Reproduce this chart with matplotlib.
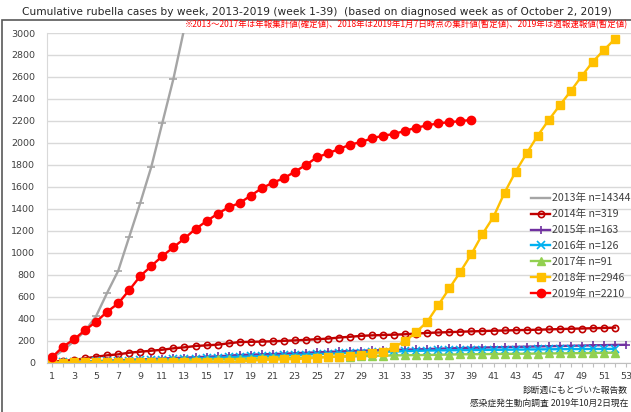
import matplotlib
matplotlib.use("Agg")
import matplotlib.pyplot as plt
from matplotlib.patches import Rectangle

plt.rcParams['font.family'] = ['DejaVu Sans', 'Noto Sans CJK JP']

# cumulative cases by week
y2013 = [40, 115, 195, 290, 425, 637, 837, 1147, 1456, 1784, 2184, 2584, 3050, 3500]
y2014 = [8, 18, 25, 40, 55, 67, 76, 91, 100, 109, 118, 131, 140, 152, 158, 164, 176, 188,
         190, 192, 195, 199, 203, 208, 214, 219, 229, 236, 244, 249, 252, 255, 259, 265,
         271, 275, 278, 282, 285, 288, 291, 293, 296, 298, 300, 303, 306, 309, 311, 314, 316, 319]
y2015 = [2, 4, 7, 10, 14, 18, 22, 26, 30, 34, 38, 42, 46, 50, 54, 58, 64, 70, 73, 76, 79, 82,
         86, 90, 94, 98, 102, 106, 109, 112, 115, 117, 119, 121, 124, 127, 130, 133, 136, 138,
         140, 142, 144, 146, 148, 150, 152, 154, 156, 158, 160, 162, 163]
y2016 = [1, 3, 5, 8, 11, 14, 17, 20, 23, 26, 29, 32, 35, 38, 42, 46, 50, 54, 57, 60, 63, 66,
         70, 74, 78, 82, 86, 89, 92, 95, 99, 102, 105, 108, 110, 112, 113, 114, 115, 116, 117,
         118, 119, 120, 121, 122, 123, 124, 124, 125, 125, 126]
y2017 = [1, 2, 4, 6, 8, 10, 12, 14, 16, 18, 20, 22, 24, 26, 28, 30, 32, 35, 37, 39, 41, 43,
         45, 47, 49, 52, 54, 56, 59, 62, 64, 66, 68, 69, 70, 72, 74, 76, 77, 78, 79, 80, 81,
         82, 83, 84, 85, 86, 87, 88, 90, 91]
y2018 = [0, 1, 2, 3, 4, 4, 5, 5, 6, 6, 7, 7, 8, 8, 8, 9, 9, 9, 18, 25, 28, 30, 34, 37, 46, 52,
         55, 64, 73, 85, 97, 145, 195, 280, 373, 525, 677, 828, 989, 1171, 1328, 1547, 1738,
         1905, 2066, 2208, 2342, 2472, 2609, 2739, 2845, 2946]
y2019 = [49, 146, 213, 297, 373, 464, 540, 661, 789, 880, 971, 1050, 1131, 1217, 1288, 1355,
         1414, 1453, 1520, 1587, 1638, 1678, 1738, 1799, 1869, 1905, 1944, 1984, 2008, 2042,
         2066, 2081, 2111, 2138, 2160, 2178, 2189, 2198, 2210]

labels = ['2013年 n=14344', '2014年 n=319', '2015年 n=163', '2016年 n=126',
          '2017年 n=91', '2018年 n=2946', '2019年 n=2210']
series = [y2013, y2014, y2015, y2016, y2017, y2018, y2019]
colors = ['#A5A5A5', '#C00000', '#7030A0', '#00B0F0', '#92D050', '#FFC000', '#FF0000']
markers = ['_', 'o', '+', 'x', '^', 's', 'o']

fig = plt.figure(figsize=(6.31, 4.12), dpi=100)
ax = fig.add_axes([46.5 / 631, 1 - 362.7 / 412, 585 / 631, 329.7 / 412])

for ys, lab, c, m in zip(series, labels, colors, markers):
    wk = list(range(1, len(ys) + 1))
    kw = dict(color=c, lw=1.7, marker=m, label=lab)
    if lab.startswith('2014'):
        kw.update(ms=4.5, mfc='none', mew=1.2)
    elif m == 's':
        kw.update(ms=6)
    elif m == 'o':
        kw.update(ms=6)
    elif m == '^':
        kw.update(ms=5.5)
    else:
        kw.update(ms=5.5, mew=1.2)
    ax.plot(wk, ys, **kw)

ax.set_xlim(0.5, 53.5)
ax.set_ylim(0, 3000)
ax.set_yticks(range(0, 3001, 200))
ax.set_xticks(range(1, 54))
ax.set_xticklabels([str(w) if w % 2 == 1 else '' for w in range(1, 54)])
ax.tick_params(axis='y', length=0, labelsize=6.8, pad=8, colors='#404040')
ax.tick_params(axis='x', length=3, color='#bfbfbf', labelsize=6.8, pad=4, labelcolor='#404040')
ax.grid(axis='y', color='#d9d9d9', lw=1)
ax.set_axisbelow(True)
for s in ['top', 'right']:
    ax.spines[s].set_visible(False)
ax.spines['left'].set_color('#d9d9d9')
ax.spines['bottom'].set_color('#bfbfbf')

leg = fig.legend(loc='upper left', bbox_to_anchor=(526 / 631, 1 - 188 / 412),
                 frameon=False, handlelength=1.8, handletextpad=0.15,
                 borderpad=0, labelspacing=0.55,
                 prop={'family': ['Noto Sans CJK JP', 'DejaVu Sans'], 'size': 7.6})
for t in leg.get_texts():
    t.set_color('#404040')

# outer chart border
fig.patches.append(Rectangle((2 / 631, -0.05), 1.0, 1 - 20 / 412 + 0.05,
                             transform=fig.transFigure, fill=False,
                             edgecolor='#595959', lw=1.2))

fig.text(22 / 631, 1 - 12 / 412,
         'Cumulative rubella cases by week, 2013-2019 (week 1-39)  (based on diagnosed week as of October 2, 2019)',
         fontsize=7.7, va='center', ha='left', color='#262626')
fig.text(628 / 631, 1 - 25 / 412,
         '※2013～2017年は年報集計値(確定値)、2018年は2019年1月7日時点の集計値(暫定値)、2019年は週報速報値(暫定値)',
         fontsize=6.1, va='center', ha='right', color='#FF0000',
         family=['Noto Sans CJK JP', 'DejaVu Sans'])
fig.text(628 / 631, 1 - 390 / 412, '診断週にもとづいた報告数',
         fontsize=6.3, va='center', ha='right', color='#262626',
         family=['Noto Sans CJK JP', 'DejaVu Sans'])
fig.text(628 / 631, 1 - 404 / 412, '感染症発生動向調査 2019年10月2日現在',
         fontsize=6.3, va='center', ha='right', color='#262626',
         family=['Noto Sans CJK JP', 'DejaVu Sans'])

fig.savefig('out.png', dpi=100)
